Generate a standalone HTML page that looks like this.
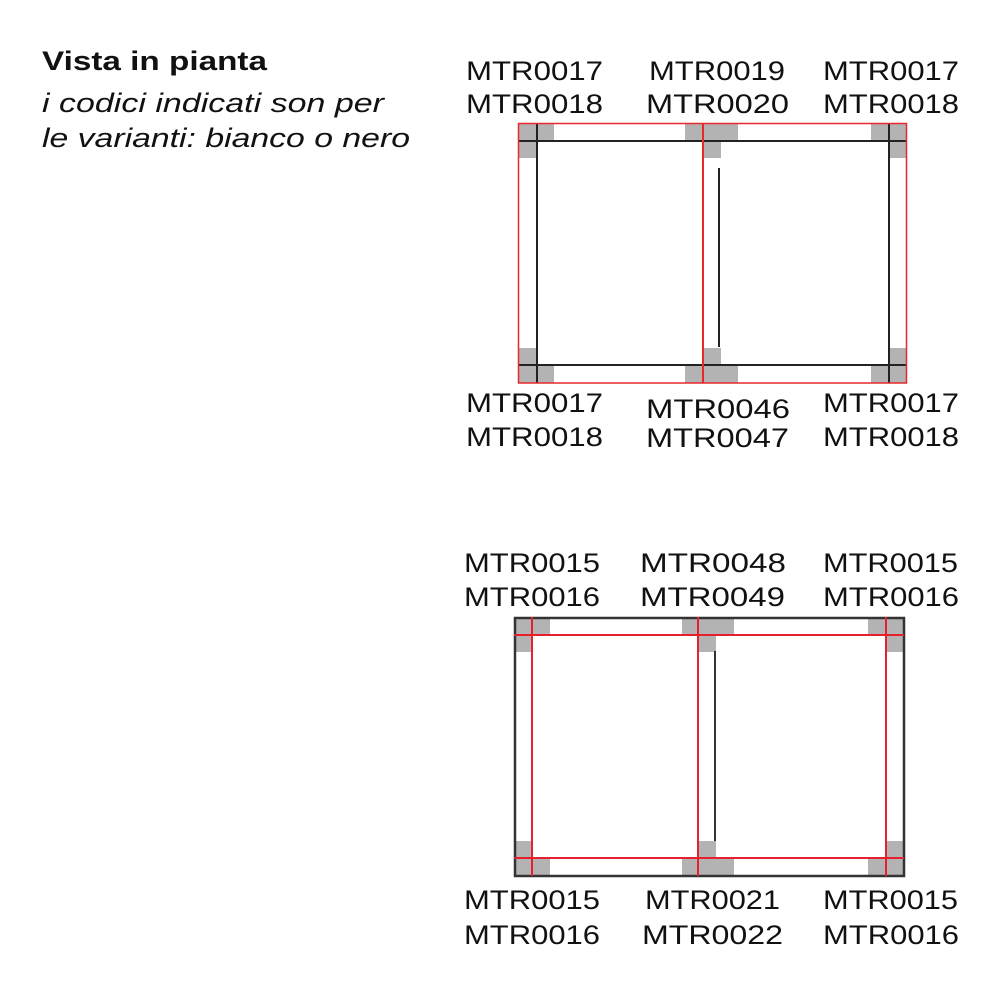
<!DOCTYPE html>
<html><head><meta charset="utf-8"><style>
html,body{margin:0;padding:0;background:#fff;width:1000px;height:1000px;overflow:hidden}
svg{display:block}
text{font-family:"Liberation Sans",sans-serif;fill:#111}
.l{font-size:27px}
</style></head><body>
<svg width="1000" height="1000" viewBox="0 0 1000 1000" xmlns="http://www.w3.org/2000/svg">
<rect width="1000" height="1000" fill="#fff"/>
<text x="42" y="70" font-size="27" font-weight="bold" textLength="225" lengthAdjust="spacingAndGlyphs">Vista in pianta</text>
<text x="42" y="112" font-size="27" font-style="italic" fill="#222" textLength="342" lengthAdjust="spacingAndGlyphs">i codici indicati son per</text>
<text x="42" y="147" font-size="27" font-style="italic" fill="#222" textLength="368" lengthAdjust="spacingAndGlyphs">le varianti: bianco o nero</text>

<g class="l">
<text x="466" y="80" class="l" textLength="137" lengthAdjust="spacingAndGlyphs">MTR0017</text>
<text x="466" y="113" class="l" textLength="137" lengthAdjust="spacingAndGlyphs">MTR0018</text>
<text x="649" y="80" class="l" textLength="136" lengthAdjust="spacingAndGlyphs">MTR0019</text>
<text x="646" y="113" class="l" textLength="143" lengthAdjust="spacingAndGlyphs">MTR0020</text>
<text x="823" y="80" class="l" textLength="136" lengthAdjust="spacingAndGlyphs">MTR0017</text>
<text x="823" y="113" class="l" textLength="136" lengthAdjust="spacingAndGlyphs">MTR0018</text>

<text x="466" y="412" class="l" textLength="137" lengthAdjust="spacingAndGlyphs">MTR0017</text>
<text x="466" y="446" class="l" textLength="137" lengthAdjust="spacingAndGlyphs">MTR0018</text>
<text x="646" y="418" class="l" textLength="144" lengthAdjust="spacingAndGlyphs">MTR0046</text>
<text x="646" y="447" class="l" textLength="143" lengthAdjust="spacingAndGlyphs">MTR0047</text>
<text x="823" y="412" class="l" textLength="136" lengthAdjust="spacingAndGlyphs">MTR0017</text>
<text x="823" y="446" class="l" textLength="136" lengthAdjust="spacingAndGlyphs">MTR0018</text>

<text x="464" y="572" class="l" textLength="136" lengthAdjust="spacingAndGlyphs">MTR0015</text>
<text x="464" y="606" class="l" textLength="136" lengthAdjust="spacingAndGlyphs">MTR0016</text>
<text x="640" y="572" class="l" textLength="146" lengthAdjust="spacingAndGlyphs">MTR0048</text>
<text x="640" y="606" class="l" textLength="145" lengthAdjust="spacingAndGlyphs">MTR0049</text>
<text x="823" y="572" class="l" textLength="135" lengthAdjust="spacingAndGlyphs">MTR0015</text>
<text x="823" y="606" class="l" textLength="136" lengthAdjust="spacingAndGlyphs">MTR0016</text>

<text x="464" y="909" class="l" textLength="136" lengthAdjust="spacingAndGlyphs">MTR0015</text>
<text x="464" y="944" class="l" textLength="136" lengthAdjust="spacingAndGlyphs">MTR0016</text>
<text x="645" y="909" class="l" textLength="135" lengthAdjust="spacingAndGlyphs">MTR0021</text>
<text x="642" y="944" class="l" textLength="141" lengthAdjust="spacingAndGlyphs">MTR0022</text>
<text x="823" y="909" class="l" textLength="135" lengthAdjust="spacingAndGlyphs">MTR0015</text>
<text x="823" y="944" class="l" textLength="136" lengthAdjust="spacingAndGlyphs">MTR0016</text>
</g>

<!-- TOP DIAGRAM -->
<g fill="#b3b3b3">
<rect x="518" y="123" width="36" height="18"/><rect x="518" y="141" width="18" height="17"/>
<rect x="685" y="123" width="53" height="18"/><rect x="704" y="141" width="17" height="17"/>
<rect x="871" y="123" width="35" height="18"/><rect x="889" y="141" width="17" height="17"/>
<rect x="518" y="365" width="36" height="18"/><rect x="518" y="348" width="18" height="17"/>
<rect x="685" y="365" width="53" height="18"/><rect x="704" y="348" width="17" height="17"/>
<rect x="871" y="365" width="35" height="18"/><rect x="889" y="348" width="17" height="17"/>
</g>
<g stroke="#222" stroke-width="2" fill="none">
<line x1="518" y1="141" x2="906" y2="141"/>
<line x1="518" y1="365" x2="906" y2="365"/>
<line x1="537" y1="123" x2="537" y2="383"/>
<line x1="889" y1="123" x2="889" y2="383"/>
<line x1="719" y1="168" x2="719" y2="347"/>
</g>
<g stroke="#e8282b" stroke-width="2" fill="none">
<rect x="518.5" y="123.5" width="388" height="259.5" stroke-width="1.5"/>
<line x1="703" y1="123" x2="703" y2="383"/>
</g>

<!-- BOTTOM DIAGRAM -->
<g fill="#b3b3b3">
<rect x="514" y="617" width="36" height="18"/><rect x="514" y="635" width="18" height="17"/>
<rect x="682" y="617" width="52" height="18"/><rect x="699" y="635" width="17" height="17"/>
<rect x="868" y="617" width="36" height="18"/><rect x="886" y="635" width="18" height="17"/>
<rect x="514" y="858" width="36" height="18"/><rect x="514" y="841" width="18" height="17"/>
<rect x="682" y="858" width="52" height="18"/><rect x="699" y="841" width="17" height="17"/>
<rect x="868" y="858" width="36" height="18"/><rect x="886" y="841" width="18" height="17"/>
</g>
<g stroke="#333" fill="none">
<rect x="515" y="618" width="389" height="258" stroke-width="2.5"/>
<line x1="715" y1="651" x2="715" y2="841" stroke-width="2"/>
</g>
<g stroke="#e8202e" stroke-width="2" fill="none">
<line x1="514" y1="635" x2="904" y2="635"/>
<line x1="514" y1="858" x2="904" y2="858"/>
<line x1="532" y1="617" x2="532" y2="876"/>
<line x1="698" y1="617" x2="698" y2="876"/>
<line x1="886" y1="617" x2="886" y2="876"/>
</g>
</svg>
</body></html>
